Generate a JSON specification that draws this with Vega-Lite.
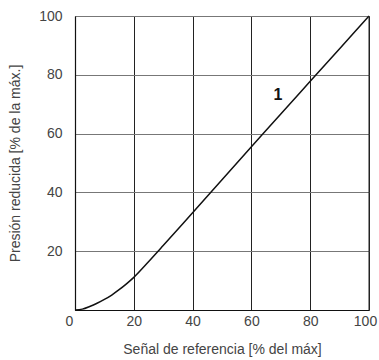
{
  "$schema": "https://vega.github.io/schema/vega-lite/v6.json",
  "width": 294,
  "height": 294,
  "autosize": "none",
  "padding": {"left": 75, "top": 16, "right": 10, "bottom": 50},
  "background": "white",
  "config": {
    "view": {"stroke": null},
    "font": "Liberation Sans"
  },
  "datasets": {
    "curve": [
      {"x": 0, "y": 0}, {"x": 2.5, "y": 0.3}, {"x": 5, "y": 1.2}, {"x": 7.5, "y": 2.3},
      {"x": 10, "y": 3.6}, {"x": 12.5, "y": 5.1}, {"x": 15, "y": 6.9}, {"x": 17.5, "y": 8.9},
      {"x": 20, "y": 11.1}, {"x": 25, "y": 16.4}, {"x": 30, "y": 21.9}, {"x": 40, "y": 33.1},
      {"x": 50, "y": 44.3}, {"x": 60, "y": 55.5}, {"x": 70, "y": 66.7}, {"x": 80, "y": 77.8},
      {"x": 90, "y": 88.9}, {"x": 100, "y": 100}
    ],
    "labels": [{"x": 69, "y": 73, "t": "1"}]
  },
  "layer": [
    {
      "data": {"name": "curve"},
      "mark": {"type": "line", "color": "#111", "strokeWidth": 1.5, "interpolate": "monotone"},
      "encoding": {
        "x": {
          "field": "x", "type": "quantitative",
          "scale": {"domain": [0, 100], "nice": false},
          "axis": {
            "values": [0, 20, 40, 60, 80, 100],
            "title": "Señal de referencia [% del máx]",
            "titleFont": "Liberation Sans", "titleFontWeight": "normal", "titleFontSize": 14, "titleColor": "#444",
            "titlePadding": 14,
            "labelFont": "Liberation Sans", "labelFontWeight": "normal", "labelFontSize": 14, "labelColor": "#444",
            "labelPadding": 4,
            "labelOffset": {"condition": [{"test": "datum.value == 0", "value": -6}, {"test": "datum.value == 100", "value": -4}], "value": 0},
            "labelFlush": false,
            "ticks": false,
            "domainColor": "#111", "domainWidth": 1.2,
            "grid": true, "gridColor": "#222", "gridOpacity": 1, "gridWidth": 1
          }
        },
        "y": {
          "field": "y", "type": "quantitative",
          "scale": {"domain": [0, 100], "nice": false},
          "axis": {
            "values": [0, 20, 40, 60, 80, 100],
            "labelExpr": "datum.value == 0 ? '' : datum.label",
            "title": "Presión reducida [% de la máx.]",
            "titleFont": "Liberation Sans", "titleFontWeight": "normal", "titleFontSize": 14, "titleColor": "#444",
            "titlePadding": 16,
            "labelFont": "Liberation Sans", "labelFontWeight": "normal", "labelFontSize": 14, "labelColor": "#444",
            "labelPadding": 13,
            "ticks": false,
            "domainColor": "#111", "domainWidth": 1.2,
            "grid": true, "gridColor": "#777", "gridOpacity": 1, "gridWidth": 1
          }
        }
      }
    },
    {
      "data": {"values": [{"a": 1}]},
      "mark": {"type": "rule", "color": "#222", "strokeWidth": 1},
      "encoding": {"x": {"datum": 100, "type": "quantitative"}}
    },
    {
      "data": {"name": "labels"},
      "mark": {"type": "text", "fontWeight": "bold", "fontSize": 16, "font": "Liberation Sans", "color": "#111"},
      "encoding": {
        "x": {"field": "x", "type": "quantitative"},
        "y": {"field": "y", "type": "quantitative"},
        "text": {"field": "t"}
      }
    }
  ]
}
